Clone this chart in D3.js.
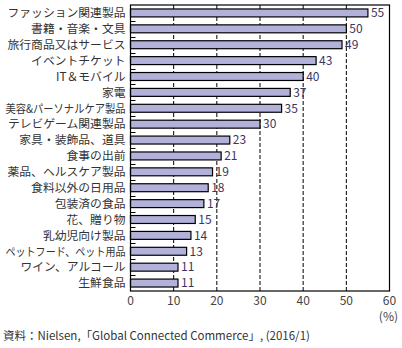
<!DOCTYPE html>
<html><head><meta charset="utf-8">
<script src="https://cdn.jsdelivr.net/npm/d3@7"></script>
<style>body{margin:0;background:#fff}svg{display:block}text{font-family:"Noto Sans CJK JP","Noto Sans",sans-serif}</style>
</head><body><svg id="c" width="402" height="348"></svg>
<script>
const categories = ["ファッション関連製品","書籍・音楽・文具","旅行商品又はサービス","イベントチケット","IT＆モバイル","家電","美容&パーソナルケア製品","テレビゲーム関連製品","家具・装飾品、道具","食事の出前","薬品、ヘルスケア製品","食料以外の日用品","包装済の食品","花、贈り物","乳幼児向け製品","ペットフード、ペット用品","ワイン、アルコール","生鮮食品"];
const values = [55,50,49,43,40,37,35,30,23,21,19,18,17,15,14,13,11,11];
const xTicks = [0,10,20,30,40,50,60];
const unitLabel = "(%)";
const sourceText = "資料：Nielsen,「Global Connected Commerce」, (2016/1)";

const svg = d3.select("#c");
const L = 130.5, R = 389.5, T = 5, B = 291;
const x = d3.scaleLinear().domain([0,60]).range([L,R]);
const y = d3.scaleBand().domain(categories).range([T,B]).paddingInner(0.5).paddingOuter(0.25);

// gridlines
svg.append("g").selectAll("line").data(xTicks.filter(t=>t>0&&t<60)).join("line")
  .attr("x1",d=>x(d)).attr("x2",d=>x(d)).attr("y1",T).attr("y2",B)
  .attr("stroke","#000").attr("stroke-width",1).attr("stroke-dasharray","4,2");

// inner ticks at band boundaries
const step = (B-T)/categories.length;
svg.append("g").selectAll("line").data(d3.range(1,categories.length)).join("line")
  .attr("x1",L).attr("x2",L+5).attr("y1",d=>Math.round(T+d*step)+0.5).attr("y2",d=>Math.round(T+d*step)+0.5)
  .attr("stroke","#000").attr("stroke-width",1);

// bars
svg.append("g").selectAll("rect").data(values).join("rect")
  .attr("x",x(0)).attr("y",(d,i)=>y(categories[i]))
  .attr("width",d=>x(d)-x(0)).attr("height",y.bandwidth())
  .attr("fill","#b1b1d9").attr("stroke","#000").attr("stroke-width",1.2);

// frame
svg.append("rect").attr("x",L).attr("y",T).attr("width",R-L).attr("height",B-T)
  .attr("fill","none").attr("stroke","#000").attr("stroke-width",1.2);

// value labels
svg.append("g").selectAll("text").data(values).join("text")
  .attr("x",d=>x(d)+3).attr("y",(d,i)=>y(categories[i])+y.bandwidth()/2)
  .attr("dy","0.36em").attr("font-size",12).attr("fill","#3b3560").text(d=>d);

// category labels
const maxW = 120;
svg.append("g").selectAll("text").data(categories).join("text")
  .attr("x",L-5).attr("y",d=>y(d)+y.bandwidth()/2).attr("dy","0.36em")
  .attr("text-anchor","end").attr("font-size",11.8).attr("fill","#333").text(d=>d)
  .each(function(){
    const w = this.getComputedTextLength();
    if (w > maxW) { this.setAttribute("textLength", maxW); this.setAttribute("lengthAdjust","spacingAndGlyphs"); }
  });

// x tick labels
svg.append("g").selectAll("text").data(xTicks).join("text")
  .attr("x",d=>x(d)).attr("y",305).attr("text-anchor","middle")
  .attr("font-size",12).attr("fill","#444").text(d=>d);

svg.append("text").attr("x",398).attr("y",321).attr("text-anchor","end")
  .attr("font-size",12).attr("fill","#444").text(unitLabel);

svg.append("text").attr("x",3).attr("y",340).attr("font-size",11.5).attr("fill","#333").text(sourceText);
</script></body></html>
